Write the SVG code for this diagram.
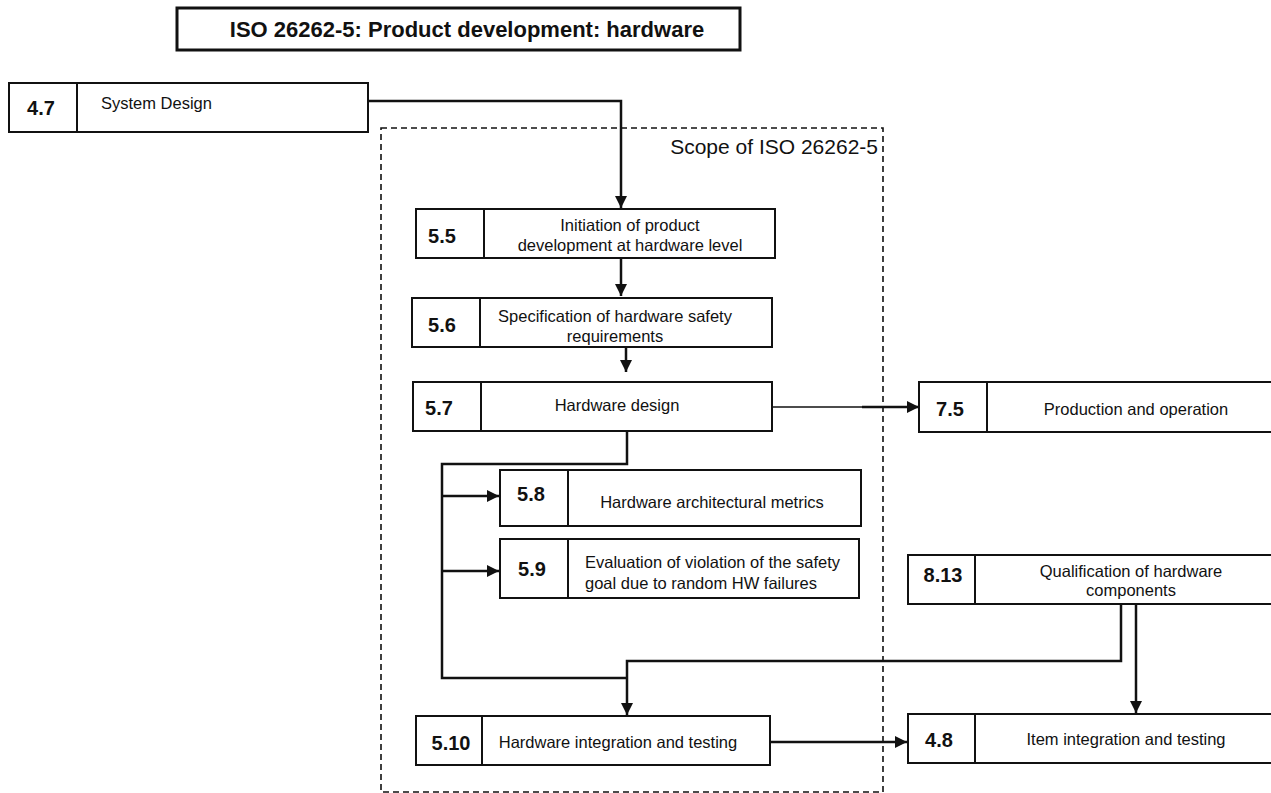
<svg xmlns="http://www.w3.org/2000/svg" width="1271" height="793" viewBox="0 0 1271 793">
  <style>
    .box { fill: #fff; stroke: #111; stroke-width: 2; }
    .div { stroke: #111; stroke-width: 2; }
    .num { font-family: "Liberation Sans", Arial, sans-serif; font-size: 20px; font-weight: bold; fill: #111; text-anchor: middle; }
    .lbl { font-family: "Liberation Sans", Arial, sans-serif; font-size: 16.5px; fill: #111; text-anchor: middle; }
    .lbl-l { font-family: "Liberation Sans", Arial, sans-serif; font-size: 16.5px; fill: #111; text-anchor: start; }
    .wire { fill: none; stroke: #111; stroke-width: 2.5; }
    .arrow { fill: none; stroke: #111; stroke-width: 2.5; marker-end: url(#head); }
  </style>
  <defs>
    <marker id="head" viewBox="0 0 10 10" refX="10" refY="5" markerWidth="5" markerHeight="5" markerUnits="strokeWidth" orient="auto">
      <path d="M0,0 L10,5 L0,10 z" fill="#111"/>
    </marker>
  </defs>
  <rect width="1271" height="793" fill="#fff"/>

  <!-- title -->
  <g id="title">
    <rect x="177" y="8" width="563" height="42" fill="#fff" stroke="#111" stroke-width="3"/>
    <text x="467" y="37" font-family="'Liberation Sans', Arial, sans-serif" font-size="22" font-weight="bold" fill="#111" text-anchor="middle">ISO 26262-5: Product development: hardware</text>
  </g>

  <!-- scope boundary -->
  <g id="scope">
    <rect x="381" y="128" width="502" height="664" fill="none" stroke="#111" stroke-width="1.6" stroke-dasharray="6 4"/>
    <text x="878" y="154" font-family="'Liberation Sans', Arial, sans-serif" font-size="21" fill="#111" text-anchor="end">Scope of ISO 26262-5</text>
  </g>

  <!-- connectors -->
  <g id="connectors">
    <polyline class="arrow" points="368,101 621,101 621,208"/>
    <line class="arrow" x1="621" y1="258" x2="621" y2="296"/>
    <line class="arrow" x1="626" y1="347" x2="626" y2="372"/>
    <line x1="772" y1="407" x2="864" y2="407" stroke="#111" stroke-width="1.6"/>
    <line class="arrow" x1="862" y1="407" x2="919" y2="407"/>
    <polyline class="wire" points="627,431 627,464 442,464 442,678 627,678"/>
    <line class="arrow" x1="442" y1="496" x2="499" y2="496"/>
    <line class="arrow" x1="442" y1="571" x2="499" y2="571"/>
    <polyline class="arrow" points="1121,604 1121,661 627,661 627,715"/>
    <line class="arrow" x1="1136" y1="604" x2="1136" y2="713"/>
    <line class="arrow" x1="770" y1="742" x2="907" y2="742"/>
  </g>

  <g id="n47">
    <rect class="box" x="9" y="83" width="359" height="49"/>
    <line class="div" x1="77" y1="83" x2="77" y2="132"/>
    <text class="num" x="41" y="115">4.7</text>
    <text class="lbl-l" x="101" y="109">System Design</text>
  </g>

  <g id="n55">
    <rect class="box" x="416" y="209" width="359" height="49"/>
    <line class="div" x1="484" y1="209" x2="484" y2="258"/>
    <text class="num" x="442" y="243">5.5</text>
    <text class="lbl" x="630" y="231">Initiation of product</text>
    <text class="lbl" x="630" y="251">development at hardware level</text>
  </g>

  <g id="n56">
    <rect class="box" x="412" y="298" width="360" height="49"/>
    <line class="div" x1="480" y1="298" x2="480" y2="347"/>
    <text class="num" x="442" y="332">5.6</text>
    <text class="lbl" x="615" y="322">Specification of hardware safety</text>
    <text class="lbl" x="615" y="342">requirements</text>
  </g>

  <g id="n57">
    <rect class="box" x="413" y="382" width="359" height="49"/>
    <line class="div" x1="481" y1="382" x2="481" y2="431"/>
    <text class="num" x="439" y="415">5.7</text>
    <text class="lbl" x="617" y="411">Hardware design</text>
  </g>

  <g id="n75">
    <rect class="box" x="919" y="382" width="360" height="50"/>
    <line class="div" x1="987" y1="382" x2="987" y2="432"/>
    <text class="num" x="950" y="416">7.5</text>
    <text class="lbl" x="1136" y="415">Production and operation</text>
  </g>

  <g id="n58">
    <rect class="box" x="500" y="470" width="361" height="56"/>
    <line class="div" x1="568" y1="470" x2="568" y2="526"/>
    <text class="num" x="531" y="501">5.8</text>
    <text class="lbl" x="712" y="508">Hardware architectural metrics</text>
  </g>

  <g id="n59">
    <rect class="box" x="500" y="539" width="359" height="59"/>
    <line class="div" x1="568" y1="539" x2="568" y2="598"/>
    <text class="num" x="532" y="576">5.9</text>
    <text class="lbl-l" x="585" y="568">Evaluation of violation of the safety</text>
    <text class="lbl-l" x="585" y="589">goal due to random HW failures</text>
  </g>

  <g id="n813">
    <rect class="box" x="908" y="555" width="370" height="49"/>
    <line class="div" x1="975" y1="555" x2="975" y2="604"/>
    <text class="num" x="943" y="582">8.13</text>
    <text class="lbl" x="1131" y="577">Qualification of hardware</text>
    <text class="lbl" x="1131" y="596">components</text>
  </g>

  <g id="n510">
    <rect class="box" x="416" y="716" width="354" height="49"/>
    <line class="div" x1="482" y1="716" x2="482" y2="765"/>
    <text class="num" x="451" y="750">5.10</text>
    <text class="lbl" x="618" y="748">Hardware integration and testing</text>
  </g>

  <g id="n48">
    <rect class="box" x="908" y="714" width="370" height="49"/>
    <line class="div" x1="975" y1="714" x2="975" y2="763"/>
    <text class="num" x="939" y="747">4.8</text>
    <text class="lbl" x="1126" y="745">Item integration and testing</text>
  </g>
</svg>
